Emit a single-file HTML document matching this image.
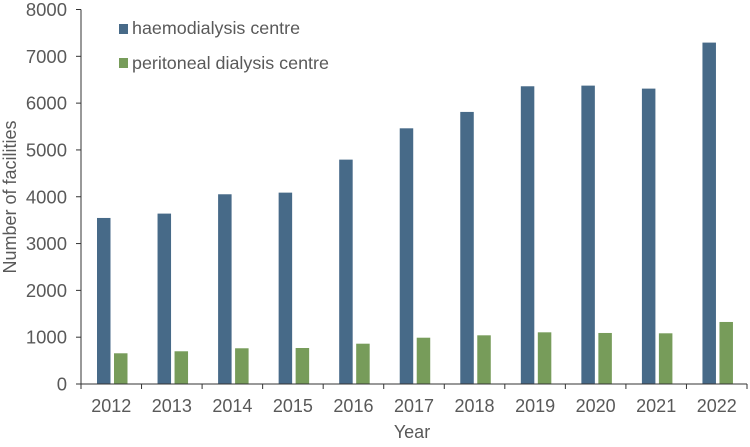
<!DOCTYPE html>
<html><head><meta charset="utf-8"><style>
body{margin:0;background:#fff;font-family:"Liberation Sans",Arial,sans-serif}
svg text{fill:#595959;font-family:"Liberation Sans",Arial,sans-serif}
</style></head><body>
<svg id="chart" width="750" height="442">
<g id="bars"></g>
<g id="axes"></g>
<g>
<rect x="119" y="24" width="9" height="10" fill="#476a88"/>
<text x="132" y="34" font-size="17.9">haemodialysis centre</text>
<rect x="119" y="58" width="9" height="10" fill="#779c5a"/>
<text x="132" y="69" font-size="17.9">peritoneal dialysis centre</text>
</g>
<text x="412" y="438" font-size="18" text-anchor="middle">Year</text>
<text transform="translate(16,197) rotate(-90)" font-size="18" text-anchor="middle">Number of facilities</text>
</svg>
<script>
const categories=["2012","2013","2014","2015","2016","2017","2018","2019","2020","2021","2022"];
const haemo=[3547,3640,4053,4088,4793,5462,5812,6360,6374,6310,7293];
const perit=[656,699,763,769,861,989,1040,1104,1090,1083,1325];
const yTicks=[0,1000,2000,3000,4000,5000,6000,7000,8000];
const NS="http://www.w3.org/2000/svg";
const x0=81,x1=747,yBase=384,yTop=9.5,yMax=8000;
const band=(x1-x0)/categories.length;
function y(v){return yBase-(v/yMax)*(yBase-yTop);}
function xc(i){return x0+band*i;}
const bars=document.getElementById('bars'),axes=document.getElementById('axes');
function mk(tag,attrs,parent){const e=document.createElementNS(NS,tag);for(const k in attrs)e.setAttribute(k,attrs[k]);parent.appendChild(e);return e;}
categories.forEach((c,i)=>{
  const b=mk('rect',{x:xc(i)+16,y:y(haemo[i]),width:13.5,height:yBase-y(haemo[i]),fill:'#476a88'},bars);
  
  
  const g=mk('rect',{x:xc(i)+33,y:y(perit[i]),width:13.5,height:yBase-y(perit[i]),fill:'#779c5a'},bars);
  
  
  const t=mk('text',{x:xc(i)+band/2,y:412,'font-size':18,'text-anchor':'middle'},axes);
  t.textContent=c;
  
  
});
for(let i=0;i<=categories.length;i++){
  mk('line',{x1:xc(i),x2:xc(i),y1:yBase,y2:yBase+5,stroke:'#333','stroke-width':1},axes);
}
yTicks.forEach(v=>{
  mk('line',{x1:x0-5,x2:x0,y1:y(v),y2:y(v),stroke:'#333','stroke-width':1},axes);
  const t=mk('text',{x:67,y:y(v)+6.5,'font-size':18.5,'text-anchor':'end'},axes);
  t.textContent=v;
  
  
});
const ya=mk('line',{x1:x0,x2:x0,y1:yTop,y2:yBase,stroke:'#333','stroke-width':1},axes);


const xa=mk('line',{x1:x0,x2:x1,y1:yBase,y2:yBase,stroke:'#333','stroke-width':1},axes);


</script>
</body></html>
